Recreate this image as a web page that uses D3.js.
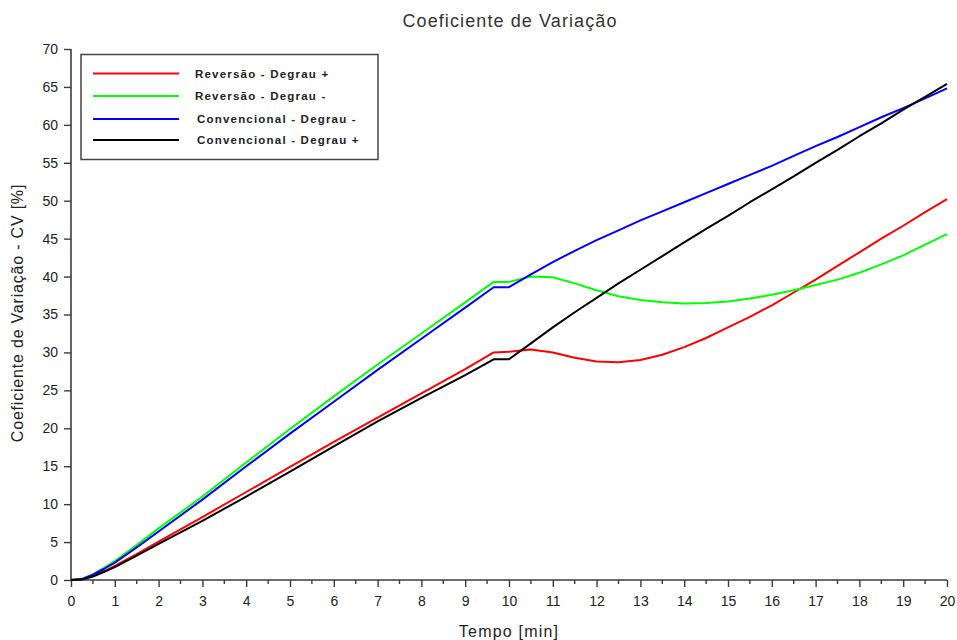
<!DOCTYPE html>
<html>
<head>
<meta charset="utf-8">
<script src="https://cdn.jsdelivr.net/npm/d3@7"></script>
<style>
  html, body { margin: 0; padding: 0; background: #fff; }
  svg { display: block; font-family: "Liberation Sans", Arial, sans-serif; }
</style>
</head>
<body>
<svg id="chart" width="957" height="640"></svg>
<script>
// Time axis samples [min]
const tempo = [0, 0.25, 0.5, 0.75, 1, 1.5, 2, 3, 4, 5, 6, 7, 8, 9, 9.65, 10, 10.5, 11, 11.5, 12, 12.5, 13, 13.5, 14, 14.5, 15, 15.5, 16, 16.5, 17, 17.5, 18, 18.5, 19, 19.5, 20];

// Coefficient of variation [%] for each strategy
const reversaoMais = [0, 0.1, 0.55, 1.15, 1.85, 3.4, 5.05, 8.3, 11.6, 14.9, 18.2, 21.4, 24.6, 27.8, 30.0, 30.1, 30.4, 30.0, 29.3, 28.8, 28.7, 29.0, 29.7, 30.7, 31.9, 33.3, 34.7, 36.2, 37.9, 39.6, 41.4, 43.2, 45.0, 46.7, 48.5, 50.2];
const reversaoMenos = [0, 0.15, 0.75, 1.6, 2.5, 4.6, 6.8, 11.0, 15.5, 19.9, 24.2, 28.4, 32.5, 36.6, 39.3, 39.3, 40.0, 39.9, 39.1, 38.2, 37.4, 36.9, 36.6, 36.45, 36.5, 36.7, 37.1, 37.6, 38.2, 38.9, 39.6, 40.5, 41.6, 42.8, 44.2, 45.6];
const convencionalMenos = [0, 0.12, 0.7, 1.45, 2.3, 4.3, 6.4, 10.6, 15.0, 19.3, 23.5, 27.7, 31.8, 35.9, 38.6, 38.6, 40.3, 41.9, 43.4, 44.8, 46.1, 47.4, 48.6, 49.8, 51.0, 52.2, 53.4, 54.6, 55.9, 57.2, 58.4, 59.7, 61.0, 62.2, 63.5, 64.8];
const convencionalMais = [0, 0.05, 0.45, 1.05, 1.7, 3.2, 4.75, 7.8, 11.0, 14.3, 17.6, 20.9, 24.0, 27.0, 29.1, 29.1, 31.2, 33.3, 35.3, 37.2, 39.1, 40.9, 42.7, 44.5, 46.3, 48.0, 49.8, 51.5, 53.2, 55.0, 56.7, 58.5, 60.2, 62.0, 63.7, 65.4];

const seriesNames = ["Reversão - Degrau +", "Reversão - Degrau -", "Convencional - Degrau -", "Convencional - Degrau +"];
const seriesColors = ["#ff0000", "#00ff00", "#0000ff", "#000000"];
const seriesValues = [reversaoMais, reversaoMenos, convencionalMenos, convencionalMais];

const xTicks = d3.range(0, 21, 1);
const xMinorTicks = d3.range(0.5, 20, 1);
const yTicks = d3.range(0, 71, 5);

const svg = d3.select("#chart");

const x = d3.scaleLinear().domain([0, 20]).range([71, 947]);
const y = d3.scaleLinear().domain([0, 70]).range([580, 49]);

const axisColor = "#3c3c3c";

// Title
svg.append("text")
  .attr("x", 510).attr("y", 27)
  .attr("text-anchor", "middle")
  .attr("font-size", 18)
  .attr("letter-spacing", 1.1)
  .attr("fill", "#333")
  .text("Coeficiente de Variação");

// X axis with minor ticks at half-minute steps
const xAxis = svg.append("g")
  .attr("transform", `translate(0,${y(0)})`)
  .call(d3.axisBottom(x).tickValues(xTicks).tickSize(7).tickPadding(9).tickFormat(d3.format("d")));
xAxis.append("g").selectAll("line")
  .data(xMinorTicks).join("line")
  .attr("x1", d => x(d)).attr("x2", d => x(d))
  .attr("y1", 0).attr("y2", 4)
  .attr("stroke", axisColor).attr("stroke-width", 1.4);

// Y axis
const yAxis = svg.append("g")
  .attr("transform", `translate(${x(0)},0)`)
  .call(d3.axisLeft(y).tickValues(yTicks).tickSize(7).tickPadding(6).tickFormat(d3.format("d")));

[xAxis, yAxis].forEach(g => {
  g.select(".domain").attr("stroke", axisColor).attr("stroke-width", 1.6);
  g.selectAll(".tick line").attr("stroke", axisColor).attr("stroke-width", 1.4);
  g.selectAll(".tick text").attr("font-size", 14).attr("fill", "#222")
    .attr("font-family", "'Liberation Sans', Arial, sans-serif");
});
// Plain axis lines without end caps
xAxis.select(".domain").attr("d", `M${x(0)},0H${x(20)}`);
yAxis.select(".domain").attr("d", `M0,${y(0)}V${y(70)}`);

// Axis labels
svg.append("text")
  .attr("x", 509).attr("y", 637)
  .attr("text-anchor", "middle")
  .attr("font-size", 16).attr("letter-spacing", 1.2).attr("fill", "#222")
  .text("Tempo [min]");
svg.append("text")
  .attr("transform", `translate(23,313) rotate(-90)`)
  .attr("text-anchor", "middle")
  .attr("font-size", 16).attr("letter-spacing", 0.8).attr("fill", "#222")
  .text("Coeficiente de Variação - CV [%]");

// Curves
const line = d3.line()
  .x((d, i) => x(tempo[i]))
  .y(d => y(d))
  .curve(d3.curveLinear);

svg.append("g").selectAll("path")
  .data(seriesValues).join("path")
  .attr("d", d => line(d))
  .attr("fill", "none")
  .attr("stroke", (d, i) => seriesColors[i])
  .attr("stroke-width", 2)
  .attr("stroke-linejoin", "round");

// Legend
const legend = svg.append("g");
legend.append("rect")
  .attr("x", 81).attr("y", 54.5).attr("width", 297).attr("height", 105)
  .attr("fill", "#fff").attr("stroke", "#444").attr("stroke-width", 1.5);
const legendY = [73.5, 96, 119, 140];
const legendTextX = [195, 195, 197, 197];
seriesNames.forEach((name, i) => {
  legend.append("line")
    .attr("x1", 93).attr("x2", 179)
    .attr("y1", legendY[i]).attr("y2", legendY[i])
    .attr("stroke", seriesColors[i]).attr("stroke-width", 2.2);
  legend.append("text")
    .attr("x", legendTextX[i]).attr("y", legendY[i] + 4)
    .attr("font-size", 11.5).attr("font-weight", "bold")
    .attr("letter-spacing", 1.2)
    .attr("fill", "#222")
    .text(name);
});
</script>
</body>
</html>
